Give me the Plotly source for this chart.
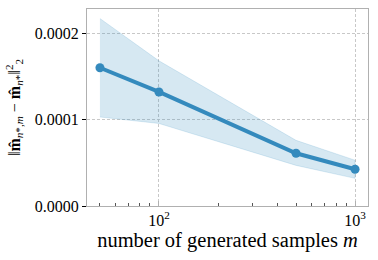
import plotly.graph_objects as go

m_vals = [50, 100, 500, 1000]
mean_err = [1.60e-4, 1.32e-4, 0.61e-4, 0.425e-4]
upper = [2.17e-4, 1.68e-4, 0.76e-4, 0.53e-4]
lower = [1.03e-4, 0.955e-4, 0.47e-4, 0.32e-4]

y_ticks = [0, 0.0001, 0.0002]
y_ticktext = ["0.0000", "0.0001", "0.0002"]
x_ticks = [100, 1000]
x_ticktext = ["10<sup>2</sup>", "10<sup>3</sup>"]
x_minor = [50, 60, 70, 80, 90, 200, 300, 400, 500, 600, 700, 800, 900]

color = "#348ABD"
font = "'Liberation Serif', 'DejaVu Serif', serif"

fig = go.Figure()
fig.add_trace(go.Scatter(x=m_vals + m_vals[::-1], y=upper + lower[::-1],
                         mode="lines", fill="toself", fillcolor="rgba(52,138,189,0.2)",
                         line=dict(color="rgba(52,138,189,0.2)", width=0.8),
                         hoverinfo="skip", showlegend=False))
fig.add_trace(go.Scatter(x=m_vals, y=mean_err, mode="lines+markers",
                         line=dict(color=color, width=4),
                         marker=dict(color=color, size=9), showlegend=False))

fig.update_layout(
    width=378, height=260,
    margin=dict(l=87, r=10, t=9, b=54),
    plot_bgcolor="white", paper_bgcolor="white",
    font=dict(family=font, size=16, color="black"),
)
fig.update_xaxes(
    type="log", range=[1.633, 3.066], automargin=False,
    tickvals=x_ticks, ticktext=x_ticktext,
    ticks="inside", ticklen=5, tickcolor="#b0b0b0",
    showgrid=True, gridcolor="#c8c8c8", griddash="3px,2px", gridwidth=0.7,
    showline=True, linecolor="#b0b0b0", linewidth=1, mirror=True,
    minor=dict(tickvals=x_minor, ticks="inside", ticklen=3, tickcolor="#555", showgrid=False),
    title=dict(text="number of generated samples <i>m</i>", font=dict(size=20.5), standoff=0),
    zeroline=False,
)
fig.update_yaxes(
    range=[0, 0.000228], automargin=False,
    tickvals=y_ticks, ticktext=y_ticktext,
    ticks="outside", ticklen=4, tickcolor="black",
    showgrid=True, gridcolor="#c8c8c8", griddash="3px,2px", gridwidth=0.7,
    showline=True, linecolor="#b0b0b0", linewidth=1, mirror=True,
    title=dict(text="‖<b>m̂</b><sub><i>n</i>*,<i>m</i></sub> − <b>m̂</b><sub><i>n</i>*</sub>‖<sup>2</sup><sub>2</sub>",
               font=dict(size=16), standoff=10),
    zeroline=False,
)

fig.write_html("out.html", config={"displayModeBar": False},
               post_script="document.body.style.margin='0';document.body.style.padding='0';")
